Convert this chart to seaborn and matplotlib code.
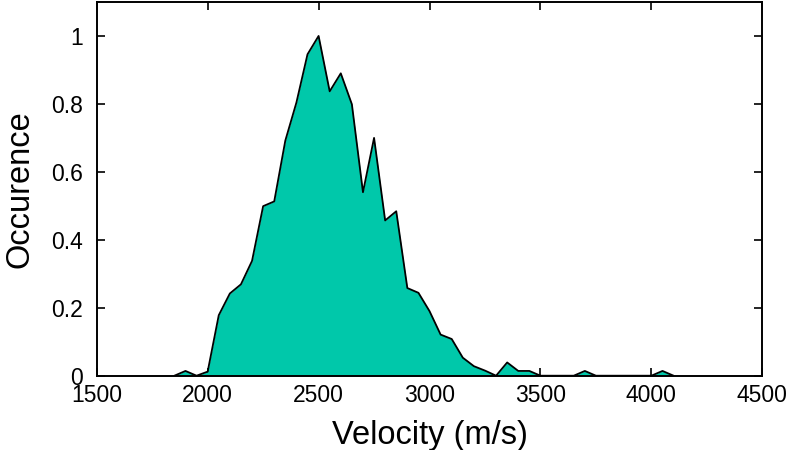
import numpy as np
import pandas as pd
import matplotlib
matplotlib.use('Agg')
import matplotlib.pyplot as plt
import seaborn as sns
from matplotlib.ticker import FormatStrFormatter

# velocity bins (m/s) and normalised occurence
velocity = [1850, 1900, 1950, 2000, 2050, 2100, 2150, 2200, 2250, 2300,
            2350, 2400, 2450, 2500, 2550, 2600, 2650, 2700, 2750, 2800,
            2850, 2900, 2950, 3000, 3050, 3100, 3150, 3200, 3250, 3300,
            3350, 3400, 3450, 3500, 3550, 3600, 3650, 3700, 3750, 3800,
            3850, 3900, 3950, 4000, 4050, 4100]
occurence = [0.0, 0.014, 0.0, 0.012, 0.178, 0.242, 0.269, 0.338, 0.499, 0.513,
             0.692, 0.804, 0.946, 1.0, 0.837, 0.890, 0.799, 0.540, 0.700, 0.457,
             0.484, 0.258, 0.244, 0.190, 0.121, 0.108, 0.053, 0.028, 0.015, 0.0,
             0.039, 0.014, 0.014, 0.0, 0.0, 0.0, 0.0, 0.014, 0.0, 0.0,
             0.0, 0.0, 0.0, 0.0, 0.014, 0.0]

x_ticks = [1500, 2000, 2500, 3000, 3500, 4000, 4500]
y_ticks = [0, 0.2, 0.4, 0.6, 0.8, 1]


def plot_distribution(df: pd.DataFrame) -> None:
    fig = plt.figure(figsize=(7.89, 4.5), dpi=100)
    ax = fig.add_axes([0.1226, 0.1651, 0.8436, 0.8305])
    # filled area plus black outline
    ax.fill_between(df['velocity'], df['occurence'], 0,
                    color='#00C8AA', linewidth=0, zorder=2)
    sns.lineplot(data=df, x='velocity', y='occurence', ax=ax,
                 color='black', linewidth=1.3, zorder=3)
    ax.set_xlim(1500, 4500)
    ax.set_ylim(0, 1.1)
    ax.set_xticks(x_ticks)
    ax.set_yticks(y_ticks)
    ax.yaxis.set_major_formatter(FormatStrFormatter('%g'))
    ax.tick_params(direction='in', length=6, width=1.2, top=True, right=True,
                   labelsize=16.5, colors='black')
    ax.tick_params(axis='x', pad=6)
    ax.tick_params(axis='y', pad=10)
    for s in ax.spines.values():
        s.set_linewidth(1.4)
        s.set_color('black')
        s.set_visible(True)
    ax.set_xlabel('Velocity (m/s)', fontsize=23.5, labelpad=9, color='black')
    ax.set_ylabel('Occurence', fontsize=23.5, labelpad=11, color='black')
    fig.savefig('out.png', dpi=100)


def main() -> None:
    df = pd.DataFrame({'velocity': velocity, 'occurence': occurence})
    sns.set_style('ticks')
    plt.rcParams['font.family'] = ['Liberation Sans', 'DejaVu Sans']
    plt.rcParams['text.color'] = 'black'
    plot_distribution(df)


if __name__ == '__main__':
    main()
